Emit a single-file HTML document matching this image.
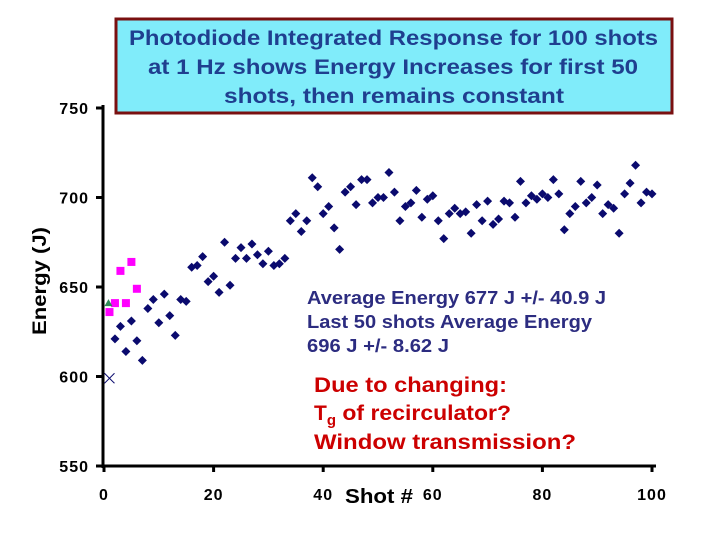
<!DOCTYPE html>
<html><head><meta charset="utf-8"><style>
body{margin:0;background:#fff;width:720px;height:540px;overflow:hidden}
svg{display:block;font-family:"Liberation Sans",Arial,sans-serif}
</style></head><body>
<svg id="chart" width="720" height="540" viewBox="0 0 720 540">
<g id="axes"></g>
<g id="marks"></g>
<g>
<rect x="116" y="19" width="556" height="94" fill="#80ecfa" stroke="#7a1010" stroke-width="3"/>
<text x="129" y="45" textLength="529" lengthAdjust="spacingAndGlyphs" font-size="21" font-weight="bold" fill="#1f3f8f">Photodiode Integrated Response for 100 shots</text>
<text x="148" y="74" textLength="490" lengthAdjust="spacingAndGlyphs" font-size="21" font-weight="bold" fill="#1f3f8f">at 1 Hz shows Energy Increases for first 50</text>
<text x="224" y="103" textLength="340" lengthAdjust="spacingAndGlyphs" font-size="21" font-weight="bold" fill="#1f3f8f">shots,  then remains constant</text>
</g>
<g font-size="18" font-weight="bold" fill="#2c2c80">
<text x="307" y="304" textLength="299" lengthAdjust="spacingAndGlyphs">Average Energy 677 J +/- 40.9 J</text>
<text x="307" y="328" textLength="285" lengthAdjust="spacingAndGlyphs">Last 50 shots Average Energy</text>
<text x="307" y="352" textLength="142" lengthAdjust="spacingAndGlyphs">696 J +/- 8.62 J</text>
</g>
<g font-size="21" font-weight="bold" fill="#cc0000">
<text x="314" y="392" textLength="193" lengthAdjust="spacingAndGlyphs">Due to changing:</text>
<text x="314" y="420">T<tspan font-size="15" dy="5">g</tspan><tspan dy="-5" textLength="175" lengthAdjust="spacingAndGlyphs"> of recirculator?</tspan></text>
<text x="314" y="449" textLength="262" lengthAdjust="spacingAndGlyphs">Window transmission?</text>
</g>
<text x="345" y="503" textLength="68" lengthAdjust="spacingAndGlyphs" font-size="20" font-weight="bold">Shot #</text>
<text x="0" y="0" font-size="19" font-weight="bold" text-anchor="middle" textLength="108" lengthAdjust="spacingAndGlyphs" transform="translate(46,281) rotate(-90)">Energy (J)</text>
</svg>
<script>
const firstShot = 2;
const energies = [621,628,614,631,620,609,638,643,630,646,634,623,643,642,661,662,667,653,656,647,675,651,666,672,666,674,668,663,670,662,663,666,687,691,681,687,711,706,691,695,683,
671,703,706,696,710,710,697,700,700,714,703,687,695,697,704,689,699,701,687,677,691,694,691,692,680,696,687,698,685,688,698,697,689,709,697,701,699,702,700,710,702,682,691,695,709,697,700,707,691,696,694,680,702,708,718,697,703,702];
const pinkShots = [1,2,3,4,5,6];
const pinkEnergies = [636,641,659,641,664,649];
const triShots = [1];
const triEnergies = [641];
const crossShots = [1];
const crossEnergies = [599];
const yTicks = [550,600,650,700,750];
const xTicks = [0,20,40,60,80,100];

const NS="http://www.w3.org/2000/svg";
const X = s => 104 + s*5.48;
const Y = e => 466 - (e-550)*1.79;
function mk(tag, attrs, parent){const el=document.createElementNS(NS,tag);for(const k in attrs)el.setAttribute(k,attrs[k]);parent.appendChild(el);return el;}
const axes=document.getElementById('axes'), marks=document.getElementById('marks');
let a=mk('line',{x1:103,y1:105,x2:103,y2:468,stroke:'#000','stroke-width':3},axes);


a=mk('line',{x1:101,y1:466,x2:656,y2:466,stroke:'#000','stroke-width':3},axes);


yTicks.forEach(v=>{
  let t=mk('line',{x1:96,y1:Y(v),x2:103,y2:Y(v),stroke:'#000','stroke-width':3},axes);
  
  
  let l=mk('text',{x:89,y:Y(v)+6,'text-anchor':'end','font-size':16,'font-weight':'bold','letter-spacing':1},axes);
  l.textContent=v;
  
  
});
xTicks.forEach(v=>{
  let t=mk('line',{x1:X(v),y1:466,x2:X(v),y2:472,stroke:'#000','stroke-width':3},axes);
  
  
  let l=mk('text',{x:X(v),y:500,'text-anchor':'middle','font-size':16,'font-weight':'bold','letter-spacing':1},axes);
  l.textContent=v;
  
  
});
energies.forEach((e,i)=>{
  const cx=X(firstShot+i), cy=Y(e);
  let p=mk('polygon',{points:`${cx},${cy-4.5} ${cx+4.5},${cy} ${cx},${cy+4.5} ${cx-4.5},${cy}`,fill:'#0a0a6e'},marks);
  
  
});
pinkShots.forEach((s,i)=>{
  const cx=X(s), cy=Y(pinkEnergies[i]);
  let p=mk('rect',{x:cx-4,y:cy-4,width:8,height:8,fill:'#ff00ff'},marks);
  
  
});
triShots.forEach((s,i)=>{
  const cx=X(s)-1, cy=Y(triEnergies[i]);
  let p=mk('polygon',{points:`${cx},${cy-4} ${cx+4},${cy+3} ${cx-4},${cy+3}`,fill:'#2e8b57'},marks);
  
  
});
crossShots.forEach((s,i)=>{
  const cx=X(s), cy=Y(crossEnergies[i]);
  let p=mk('path',{d:`M${cx-5},${cy-5}L${cx+5},${cy+5}M${cx+5},${cy-5}L${cx-5},${cy+5}`,stroke:'#0a0a6e','stroke-width':1,fill:'none'},marks);
  
  
});
</script>
</body></html>
